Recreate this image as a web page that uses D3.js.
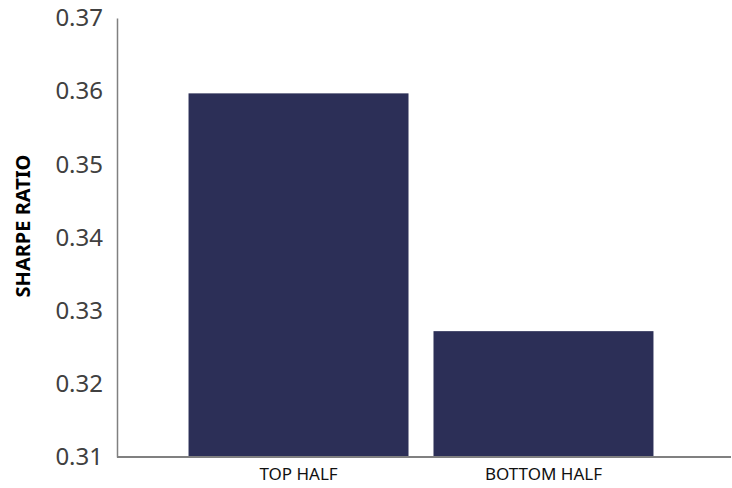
<!DOCTYPE html>
<html>
<head>
<meta charset="utf-8">
<script src="https://cdn.jsdelivr.net/npm/d3@7"></script>
<style>
  body { margin: 0; background: #fff; }
  svg { display: block; font-family: "Noto Sans", "Open Sans", sans-serif; }
</style>
</head>
<body>
<div id="chart"></div>
<script>
const categories = ["TOP HALF", "BOTTOM HALF"]
const sharpe = [0.3597, 0.3272]
const yTicks = [0.31, 0.32, 0.33, 0.34, 0.35, 0.36, 0.37]

const width = 732, height = 488
const margin = { top: 18, right: 7, bottom: 31, left: 117 }
const barColor = "#2c2f57"
const axisColor = "#808080"

const svg = d3.select("#chart").append("svg")
    .attr("width", width)
    .attr("height", height)

const x = d3.scaleBand()
    .domain(categories)
    .range([margin.left, width - margin.right])
    .paddingInner(0.102)
    .paddingOuter(0.292)

const y = d3.scaleLinear()
    .domain([0.31, 0.37])
    .range([height - margin.bottom, margin.top])

// bars
svg.selectAll(".bar")
    .data(categories)
    .enter()
    .append("rect")
    .attr("class", "bar")
    .attr("x", d => x(d))
    .attr("width", x.bandwidth())
    .attr("y", (d, i) => y(sharpe[i]))
    .attr("height", (d, i) => y(0.31) - y(sharpe[i]))
    .style("fill", barColor)

// y axis
const yAxis = svg.append("g")
    .attr("transform", `translate(${margin.left},0)`)
    .call(d3.axisLeft(y).tickValues(yTicks).tickFormat(d3.format(".2f")).tickSize(0).tickPadding(14))
yAxis.select(".domain").attr("stroke", axisColor).attr("stroke-width", 1.5)
yAxis.selectAll("text")
    .attr("font-size", 24)
    .attr("fill", "#404040")
    .attr("font-family", "'Noto Sans', sans-serif")

// x axis
const xAxis = svg.append("g")
    .attr("transform", `translate(0,${y(0.31)})`)
    .call(d3.axisBottom(x).tickSize(0).tickPadding(11))
xAxis.select(".domain").remove()
xAxis.selectAll("text")
    .attr("font-size", 17)
    .attr("fill", "#111")
    .attr("font-family", "'Noto Sans', sans-serif")

svg.append("line")
    .attr("x1", margin.left)
    .attr("x2", width - 1)
    .attr("y1", y(0.31))
    .attr("y2", y(0.31))
    .attr("stroke", axisColor)
    .attr("stroke-width", 2)

// y title
svg.append("text")
    .attr("transform", `translate(30,226) rotate(-90)`)
    .attr("text-anchor", "middle")
    .attr("font-size", 20)
    .attr("font-weight", "bold")
    .attr("fill", "#000")
    .text("SHARPE RATIO")
</script>
</body>
</html>
